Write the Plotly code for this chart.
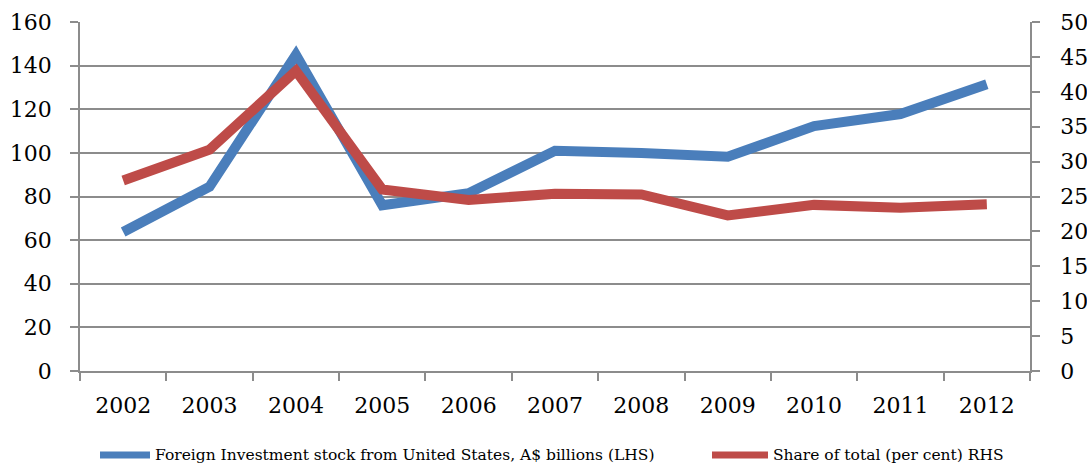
import plotly.graph_objects as go

years = ["2002", "2003", "2004", "2005", "2006", "2007", "2008", "2009", "2010", "2011", "2012"]
us_stock = [63.7, 84.5, 145.0, 76.0, 81.5, 101.0, 100.0, 98.2, 112.3, 117.8, 131.5]
share_pct = [27.3, 31.7, 43.0, 26.0, 24.5, 25.4, 25.3, 22.3, 23.8, 23.4, 23.9]

series_names = [
    "Foreign Investment stock from United States, A$ billions (LHS)",
    "Share of total (per cent) RHS",
]

blue = "#4A7EBB"
red = "#BE4B48"
axis_grey = "#8C8C8C"
font_family = "DejaVu Serif"

# plot area in pixels (used to place the legend below it)
L, R, T, B = 80, 57, 22, 94
W, H = 1087, 465
plot_w = W - L - R
plot_h = H - T - B


def px_x(x):
    return (x - L) / plot_w


def px_y(y):
    return (H - B - y) / plot_h


fig = go.Figure()
fig.add_trace(go.Scatter(
    x=years, y=us_stock, mode="lines", name=series_names[0],
    line=dict(color=blue, width=10),
))
fig.add_trace(go.Scatter(
    x=years, y=share_pct, mode="lines", yaxis="y2", name=series_names[1],
    line=dict(color=red, width=10),
))

# legend drawn beneath the plot: sample line + label for each series
legend_items = [(100, 150, 153, blue, series_names[0]),
                (712, 768, 771, red, series_names[1])]
legend_y = 455
for x0, x1, xt, col, label in legend_items:
    fig.add_shape(type="line", xref="paper", yref="paper",
                  x0=px_x(x0), x1=px_x(x1), y0=px_y(legend_y), y1=px_y(legend_y),
                  line=dict(color=col, width=7))
    fig.add_annotation(xref="paper", yref="paper", x=px_x(xt), y=px_y(legend_y),
                       xanchor="left", yanchor="middle", showarrow=False,
                       text=label, font=dict(size=15.5, family=font_family))

fig.update_layout(
    width=W, height=H,
    margin=dict(l=L, r=R, t=T, b=B, autoexpand=False),
    paper_bgcolor="white", plot_bgcolor="white",
    font=dict(family=font_family, color="black"),
    showlegend=False,
    xaxis=dict(
        type="category", tickson="boundaries", range=[-0.5, 10.5],
        ticks="outside", ticklen=8, tickcolor=axis_grey, tickwidth=1.5,
        showline=True, linecolor=axis_grey, linewidth=1.5,
        showgrid=False, tickfont=dict(size=22), ticklabelstandoff=14,
    ),
    yaxis=dict(
        range=[0, 160], dtick=20, tick0=0,
        ticks="outside", ticklen=8, tickcolor=axis_grey, tickwidth=1.5,
        showline=True, linecolor=axis_grey, linewidth=1.5,
        showgrid=True, gridcolor=axis_grey, gridwidth=1.5,
        zeroline=False, tickfont=dict(size=22), ticklabelstandoff=14,
    ),
    yaxis2=dict(
        range=[0, 50], dtick=5, tick0=0, overlaying="y", side="right",
        ticks="outside", ticklen=8, tickcolor=axis_grey, tickwidth=1.5,
        showline=True, linecolor=axis_grey, linewidth=1.5,
        showgrid=False, zeroline=False, tickfont=dict(size=22), ticklabelstandoff=16,
    ),
)

fig.write_html("out.html")
